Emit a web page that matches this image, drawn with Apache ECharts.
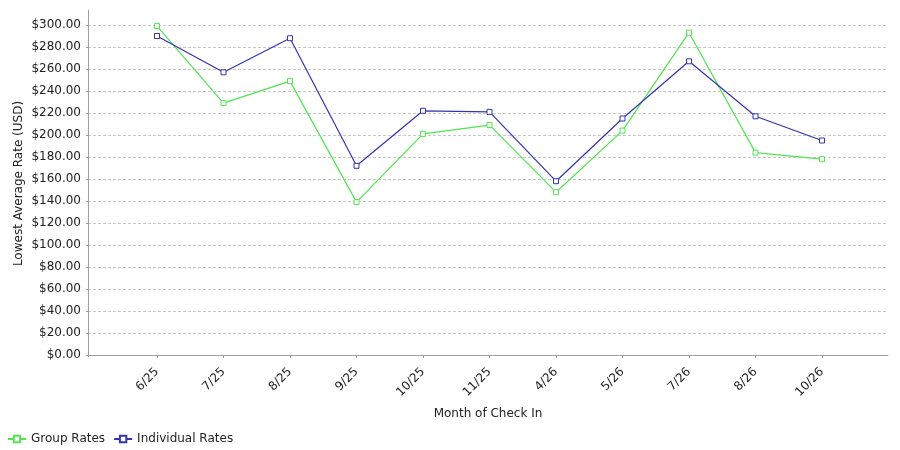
<!DOCTYPE html>
<html><head><meta charset="utf-8">
<script src="https://cdn.jsdelivr.net/npm/echarts@6/dist/echarts.min.js"></script>
<style>html,body{margin:0;padding:0;background:#fff}#c{width:900px;height:450px}</style>
</head><body><div id="c"></div>
<script>
var categories = ['6/25','7/25','8/25','9/25','10/25','11/25','4/26','5/26','7/26','8/26','10/26'];
var groupRates = [299, 229, 249, 139, 201, 209, 148, 204, 293, 184, 178];
var individualRates = [290, 257, 288, 172, 222, 221, 158, 215, 267, 217, 195];
var yMin = 0, yMax = 300, yStep = 20;

var font = 'DejaVu Sans';
var GREEN = '#4fe64f', BLUE = '#3434b0';
var chart = echarts.init(document.getElementById('c'), null, {renderer: 'canvas'});
var axisGray = '#a0a0a0';
chart.setOption({
  animation: false,
  backgroundColor: '#fff',
  textStyle: {fontFamily: font},
  grid: [
    {left: 88, right: 12, top: 10, height: 347},
    {left: 88, right: 12, top: 25, height: 330},
    {left: 157, right: 78, top: 25, height: 330}
  ],
  xAxis: [
    {gridIndex: 0, type: 'category', data: categories, show: false},
    {gridIndex: 1, type: 'category', data: categories, offset: 5,
     axisLine: {show: true, lineStyle: {color: axisGray}}, axisTick: {show: false}, axisLabel: {show: false},
     name: 'Month of Check In', nameLocation: 'middle', nameGap: 48,
     nameTextStyle: {fontFamily: font, fontSize: 12, color: '#222'}},
    {gridIndex: 2, type: 'category', data: categories, boundaryGap: false, offset: 5,
     axisLine: {show: false},
     axisTick: {show: true, length: 3, alignWithLabel: true, lineStyle: {color: axisGray}},
     axisLabel: {rotate: 45, fontFamily: font, fontSize: 12, color: '#222', margin: 10}}
  ],
  yAxis: [
    {gridIndex: 0, type: 'value', min: 0, max: 1,
     axisLine: {show: true, lineStyle: {color: axisGray}}, axisTick: {show: false}, axisLabel: {show: false}, splitLine: {show: false},
     name: 'Lowest Average Rate (USD)', nameLocation: 'middle', nameGap: 63, nameRotate: 90,
     nameTextStyle: {fontFamily: font, fontSize: 12, color: '#222'}},
    {gridIndex: 1, type: 'value', min: yMin, max: yMax, interval: yStep,
     axisLine: {show: false}, axisTick: {show: true, length: 2, lineStyle: {color: axisGray}},
     axisLabel: {fontFamily: font, fontSize: 12, color: '#222', margin: 7,
       formatter: function (v) { return '$' + v.toFixed(2); }},
     splitLine: {show: true, lineStyle: {color: '#c8c8c8', type: [3, 2], width: 1}}},
    {gridIndex: 2, type: 'value', min: yMin, max: yMax, show: false}
  ],
  legend: {
    left: 2, top: 428, itemGap: 8, itemWidth: 18, itemHeight: 8,
    textStyle: {fontFamily: font, fontSize: 12, color: '#222'},
    data: ['Group Rates', 'Individual Rates']
  },
  series: [
    {name: 'Group Rates', type: 'line', xAxisIndex: 2, yAxisIndex: 2, data: groupRates,
     symbol: 'rect', symbolSize: 5, lineStyle: {color: GREEN, width: 1.2},
     itemStyle: {color: '#fff', borderColor: GREEN, borderWidth: 1}},
    {name: 'Individual Rates', type: 'line', xAxisIndex: 2, yAxisIndex: 2, data: individualRates,
     symbol: 'rect', symbolSize: 5, lineStyle: {color: BLUE, width: 1.2},
     itemStyle: {color: '#fff', borderColor: BLUE, borderWidth: 1}}
  ]
});
</script></body></html>
